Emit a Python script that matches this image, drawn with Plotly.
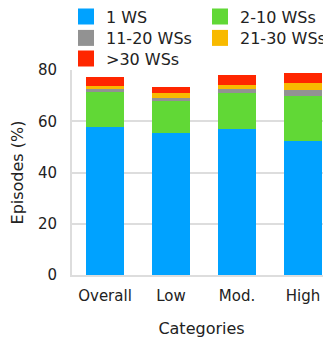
import plotly.graph_objects as go

categories = ["Overall", "Low", "Mod.", "High"]
series_names = ["1 WS", "2-10 WSs", "11-20 WSs", "21-30 WSs", ">30 WSs"]
ws_1 = [57.8, 55.4, 57.0, 52.3]
ws_2_10 = [13.7, 12.5, 14.0, 17.7]
ws_11_20 = [1.1, 1.2, 1.6, 2.2]
ws_21_30 = [1.3, 1.9, 1.7, 2.7]
ws_30p = [3.5, 2.5, 3.9, 4.1]
y_ticks = [0, 20, 40, 60, 80]

colors = ["#00A2FF", "#61D836", "#929292", "#F8BA00", "#FF2600"]
series = [ws_1, ws_2_10, ws_11_20, ws_21_30, ws_30p]

FONT = "DejaVu Sans"
W, H = 331, 343  # page body has an 8px margin; figure div starts at (8, 8)
legend_ids = ["legend", "legend2", "legend3", "legend4", "legend5"]
# legend slots (column, row) in px of the figure div
col_x = [58, 192]
row_y = [8.5, 30, 50.5]
slots = [(0, 0), (1, 0), (0, 1), (1, 1), (0, 2)]

fig = go.Figure()
for name, vals, col in zip(series_names, series, colors):
    fig.add_trace(go.Bar(x=categories, y=vals, name=name, marker_color=col,
                         marker_line_width=0, showlegend=False, legendgroup=name))
for name, col, lg in zip(series_names, colors, legend_ids):
    fig.add_trace(go.Scatter(x=[None], y=[None], mode="markers", name=name,
                             legendgroup=name, legend=lg,
                             marker=dict(symbol="square", size=18, color=col, line_width=0)))

leg_layout = {}
for lg, (c, r) in zip(legend_ids, slots):
    leg_layout[lg] = dict(orientation="h", xref="container", yref="container",
                          x=col_x[c] / W, y=1 - row_y[r] / H,
                          xanchor="left", yanchor="middle",
                          font=dict(family=FONT, size=16, color="#222222"),
                          itemsizing="trace", bgcolor="rgba(0,0,0,0)")

fig.update_layout(
    width=W, height=H,
    margin=dict(l=64, r=8, t=62, b=76, autoexpand=False),
    barmode="stack", bargap=0.43,
    plot_bgcolor="white", paper_bgcolor="white",
    font=dict(family=FONT, size=15, color="#222222"),
    xaxis=dict(range=[-0.5, 3.424], showgrid=False, showline=True, linecolor="#dddddd",
               linewidth=2, ticks="", ticklabelstandoff=6, automargin=False,
               title=dict(text="Categories", standoff=19, font=dict(size=16))),
    yaxis=dict(range=[0, 80], tickvals=y_ticks, showgrid=True, gridcolor="#dddddd",
               gridwidth=2, showline=True, linecolor="#dddddd", linewidth=2,
               zeroline=False, ticks="", ticklabelstandoff=10, automargin=False,
               title=dict(text="Episodes (%)", standoff=23, font=dict(size=16))),
    **leg_layout,
)
fig.write_html("out.html")
